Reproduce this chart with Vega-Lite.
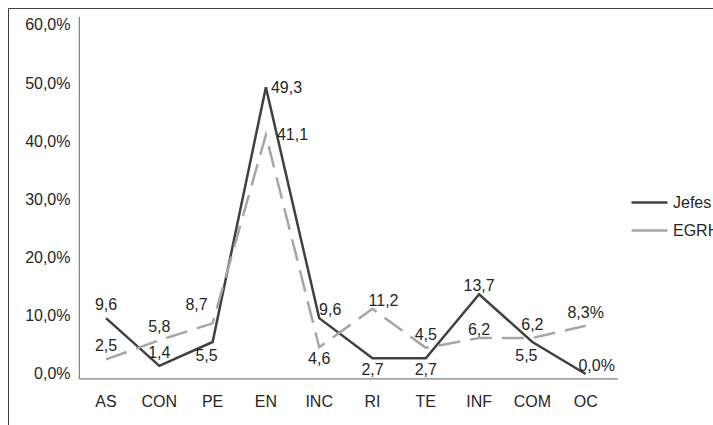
{
  "$schema": "https://vega.github.io/schema/vega-lite/v6.json",
  "width": 705,
  "height": 417,
  "autosize": {"type": "none"},
  "padding": {"left": 8, "top": 8, "right": 0, "bottom": 0},
  "background": "white",
  "config": {
    "view": {"stroke": "#404040", "strokeWidth": 1, "strokeDash": [705, 1122, 417]},
    "font": "Liberation Sans",
    "text": {"font": "Liberation Sans", "fontSize": 16, "color": "#262626", "baseline": "middle"}
  },
  "datasets": {
    "series": [
      {"cat": "AS", "series": "Jefes", "value": 9.6, "label": "9,6"},
      {"cat": "CON", "series": "Jefes", "value": 1.4, "label": "1,4"},
      {"cat": "PE", "series": "Jefes", "value": 5.5, "label": "5,5"},
      {"cat": "EN", "series": "Jefes", "value": 49.3, "label": "49,3"},
      {"cat": "INC", "series": "Jefes", "value": 9.6, "label": "9,6"},
      {"cat": "RI", "series": "Jefes", "value": 2.7, "label": "2,7"},
      {"cat": "TE", "series": "Jefes", "value": 2.7, "label": "2,7"},
      {"cat": "INF", "series": "Jefes", "value": 13.7, "label": "13,7"},
      {"cat": "COM", "series": "Jefes", "value": 5.5, "label": "5,5"},
      {"cat": "OC", "series": "Jefes", "value": 0.0, "label": "0,0%"},
      {"cat": "AS", "series": "EGRH", "value": 2.5, "label": "2,5"},
      {"cat": "CON", "series": "EGRH", "value": 5.8, "label": "5,8"},
      {"cat": "PE", "series": "EGRH", "value": 8.7, "label": "8,7"},
      {"cat": "EN", "series": "EGRH", "value": 41.1, "label": "41,1"},
      {"cat": "INC", "series": "EGRH", "value": 4.6, "label": "4,6"},
      {"cat": "RI", "series": "EGRH", "value": 11.2, "label": "11,2"},
      {"cat": "TE", "series": "EGRH", "value": 4.5, "label": "4,5"},
      {"cat": "INF", "series": "EGRH", "value": 6.2, "label": "6,2"},
      {"cat": "COM", "series": "EGRH", "value": 6.2, "label": "6,2"},
      {"cat": "OC", "series": "EGRH", "value": 8.3, "label": "8,3%"}
    ],
    "axislines": [
      {"c0": "AS", "c1": "OC", "v0": -0.85, "v1": 61.4}
    ]
  },
  "encoding": {
    "x": {
      "field": "cat", "type": "nominal", "bandPosition": 0.5,
      "scale": {"type": "band", "domain": ["AS", "CON", "PE", "EN", "INC", "RI", "TE", "INF", "COM", "OC"], "range": [71.35, 604.35], "paddingInner": 0, "paddingOuter": 0},
      "axis": {"orient": "bottom", "offset": -46, "domain": false, "ticks": false, "grid": false, "title": null, "labelAngle": 0, "labelPadding": 14, "labelFontSize": 16, "labelFont": "Liberation Sans", "labelColor": "#262626", "labelDx": 2}
    },
    "y": {
      "field": "value", "type": "quantitative",
      "scale": {"domain": [-8.77, 62.92], "nice": false, "zero": false},
      "axis": {"values": [0, 10, 20, 30, 40, 50, 60], "offset": -71, "domain": false, "ticks": false, "grid": false, "title": null, "labelPadding": 9, "labelFontSize": 16, "labelFont": "Liberation Sans", "labelColor": "#262626", "labelExpr": "replace(format(datum.value, '.1f'), '.', ',') + '%'"}
    }
  },
  "layer": [
    {
      "data": {"name": "axislines"},
      "mark": {"type": "rule", "color": "#7f7f7f", "strokeWidth": 1.2},
      "encoding": {
        "x": {"field": "c0", "type": "nominal", "bandPosition": 0},
        "x2": {"field": "c1", "bandPosition": 1.1},
        "y": {"field": "v0", "type": "quantitative"}
      }
    },
    {
      "data": {"name": "axislines"},
      "mark": {"type": "rule", "color": "#7f7f7f", "strokeWidth": 1.2},
      "encoding": {
        "x": {"field": "c0", "type": "nominal", "bandPosition": 0},
        "y": {"field": "v0", "type": "quantitative"},
        "y2": {"field": "v1"}
      }
    },
    {
      "data": {"name": "series"},
      "transform": [{"filter": "datum.series == 'Jefes'"}],
      "mark": {"type": "line", "strokeWidth": 2.5},
      "encoding": {
        "color": {
          "field": "series", "type": "nominal",
          "scale": {"domain": ["Jefes", "EGRH"], "range": ["#404040", "#a6a6a6"]},
          "legend": {
            "orient": "none", "legendX": 622, "legendY": 175, "title": null,
            "symbolType": "stroke", "symbolSize": 1296, "symbolStrokeWidth": 2.5,
            "labelFontSize": 16, "labelFont": "Liberation Sans", "labelColor": "#262626", "labelOffset": 4,
            "rowPadding": 0, "padding": 0
          }
        }
      }
    },
    {
      "data": {"name": "series"},
      "transform": [{"filter": "datum.series == 'EGRH'"}],
      "mark": {"type": "line", "strokeWidth": 2.5, "strokeDash": [22, 10]},
      "encoding": {
        "color": {"field": "series", "type": "nominal"}
      }
    },
    {
      "data": {"name": "series"},
      "transform": [{"filter": "indexof(['Jefes|AS','Jefes|CON','EGRH|AS','EGRH|CON','EGRH|TE','EGRH|COM','EGRH|OC'], datum.series + '|' + datum.cat) >= 0"}],
      "mark": {"type": "text", "dy": -13},
      "encoding": {"text": {"field": "label"}}
    },
    {
      "data": {"name": "series"},
      "transform": [{"filter": "indexof(['Jefes|INF','EGRH|INF'], datum.series + '|' + datum.cat) >= 0"}],
      "mark": {"type": "text", "dy": -8},
      "encoding": {"text": {"field": "label"}}
    },
    {
      "data": {"name": "series"},
      "transform": [{"filter": "indexof(['Jefes|RI','Jefes|TE','EGRH|INC'], datum.series + '|' + datum.cat) >= 0"}],
      "mark": {"type": "text", "dy": 12},
      "encoding": {"text": {"field": "label"}}
    },
    {
      "data": {"name": "series"},
      "transform": [{"filter": "indexof(['Jefes|PE','Jefes|COM'], datum.series + '|' + datum.cat) >= 0"}],
      "mark": {"type": "text", "dx": -6, "dy": 14},
      "encoding": {"text": {"field": "label"}}
    },
    {
      "data": {"name": "series"},
      "transform": [{"filter": "datum.series == 'Jefes' && datum.cat == 'EN'"}],
      "mark": {"type": "text", "align": "left", "dx": 5, "dy": 1},
      "encoding": {"text": {"field": "label"}}
    },
    {
      "data": {"name": "series"},
      "transform": [{"filter": "datum.series == 'EGRH' && datum.cat == 'EN'"}],
      "mark": {"type": "text", "align": "left", "dx": 11},
      "encoding": {"text": {"field": "label"}}
    },
    {
      "data": {"name": "series"},
      "transform": [{"filter": "indexof(['EGRH|RI','Jefes|OC','Jefes|INC'], datum.series + '|' + datum.cat) >= 0"}],
      "mark": {"type": "text", "dx": 11, "dy": -8},
      "encoding": {"text": {"field": "label"}}
    },
    {
      "data": {"name": "series"},
      "transform": [{"filter": "datum.series == 'EGRH' && datum.cat == 'PE'"}],
      "mark": {"type": "text", "dx": -16, "dy": -18},
      "encoding": {"text": {"field": "label"}}
    }
  ]
}
